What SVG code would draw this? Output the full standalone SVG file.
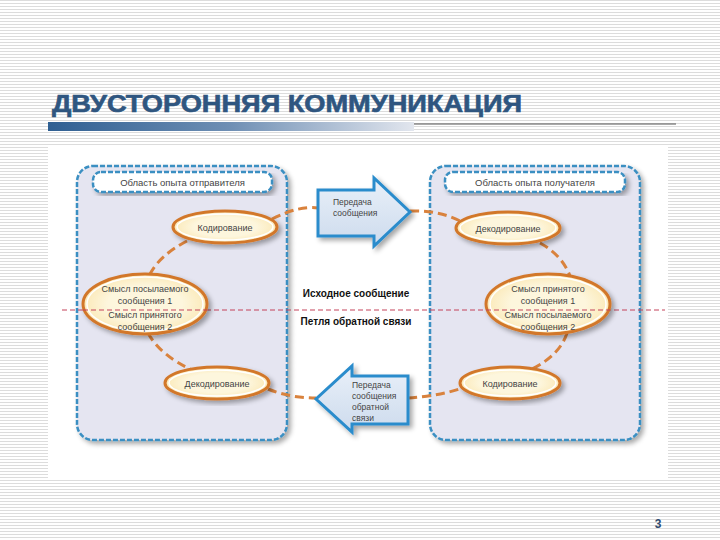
<svg xmlns="http://www.w3.org/2000/svg" width="720" height="540" viewBox="0 0 720 540">
<defs>
<pattern id="stripes" width="6" height="3" patternUnits="userSpaceOnUse">
<rect width="6" height="3" fill="#ffffff"/>
<rect y="0" width="6" height="1" fill="#dcdcdc"/>
</pattern>
<linearGradient id="bar" x1="0" y1="0" x2="1" y2="0">
<stop offset="0" stop-color="#2f5f92"/>
<stop offset="0.5" stop-color="#6f8fb4"/>
<stop offset="1" stop-color="#e2e6ee"/>
</linearGradient>
<radialGradient id="ell" cx="0.5" cy="0.5" r="0.5">
<stop offset="0.6" stop-color="#fdf6dd"/>
<stop offset="1" stop-color="#fbe9b8"/>
</radialGradient>
<linearGradient id="arrowFill" x1="0" y1="0" x2="0" y2="1">
<stop offset="0" stop-color="#e9f0f9"/>
<stop offset="1" stop-color="#cddbed"/>
</linearGradient>
<filter id="sh" x="-10%" y="-10%" width="130%" height="130%">
<feGaussianBlur in="SourceAlpha" stdDeviation="2.5"/>
<feOffset dx="3" dy="3" result="b"/>
<feComponentTransfer><feFuncA type="linear" slope="0.35"/></feComponentTransfer>
<feMerge><feMergeNode/><feMergeNode in="SourceGraphic"/></feMerge>
</filter>
</defs>
<style>
.panel{fill:#e5e5f1;stroke:#3a8fc2;stroke-width:2.5;stroke-dasharray:5 2}
.pill{fill:#ffffff;stroke:#3a8fc2;stroke-width:2.5;stroke-dasharray:5 2}
.ell{fill:url(#ell);stroke:#d2772a;stroke-width:3}
.ellin{fill:none;stroke:#ffffff;stroke-width:1.5}
.conn{fill:none;stroke:#d9823d;stroke-width:3;stroke-dasharray:9 5}
.arr{fill:url(#arrowFill);stroke:#2a8ccc;stroke-width:3;stroke-linejoin:miter}
.t{font-family:"Liberation Sans",Arial,sans-serif;font-size:9px;fill:#444}
.h{font-family:"Liberation Sans",Arial,sans-serif;font-size:9.5px;fill:#444}
.b{font-family:"Liberation Sans",Arial,sans-serif;font-size:10px;font-weight:bold;fill:#111}
.a{font-family:"Liberation Sans",Arial,sans-serif;font-size:8.5px;fill:#444}
</style>
<rect width="720" height="540" fill="url(#stripes)"/>
<text x="52" y="112" font-family="Liberation Sans, Arial, sans-serif" font-size="23" font-weight="bold" fill="#2f5680" stroke="#2f5680" stroke-width="0.6" textLength="470" lengthAdjust="spacingAndGlyphs">ДВУСТОРОННЯЯ КОММУНИКАЦИЯ</text>
<rect x="48" y="122" width="366" height="9" fill="url(#bar)"/>
<line x1="414" y1="124" x2="676" y2="124" stroke="#555" stroke-width="1"/>
<rect x="48" y="145" width="620" height="333" fill="#ffffff"/>

<g id="sender-panel">
<rect class="panel" x="77" y="166" width="210" height="274" rx="16" filter="url(#sh)"/>
<rect class="pill" x="93" y="172" width="179" height="20" rx="8" filter="url(#sh)"/>
<text class="h" x="182.5" y="185.5" text-anchor="middle">Область опыта отправителя</text>
</g>
<g id="receiver-panel">
<rect class="panel" x="430" y="166" width="210" height="274" rx="16" filter="url(#sh)"/>
<rect class="pill" x="445" y="172" width="180" height="20" rx="8" filter="url(#sh)"/>
<text class="h" x="535" y="185.5" text-anchor="middle">Область опыта получателя</text>
</g>

<g id="connectors">
<path class="conn" d="M272,219 Q300,205 318,208"/>
<path class="conn" d="M410,211 Q440,210 462,222"/>
<path class="conn" d="M187,241 Q160,255 150,274"/>
<path class="conn" d="M148,333 Q160,355 192,370"/>
<path class="conn" d="M268,389 Q290,398 316,398"/>
<path class="conn" d="M408,398 Q440,396 462,388"/>
<path class="conn" d="M540,243 Q562,255 570,276"/>
<path class="conn" d="M567,333 Q560,355 532,369"/>
<line x1="62" y1="310" x2="665" y2="310" stroke="#c4435a" stroke-width="1" stroke-dasharray="5 3"/>
</g>

<g id="enc-left">
<ellipse class="ell" cx="225" cy="227" rx="52" ry="16" filter="url(#sh)"/>
<ellipse class="ellin" cx="225" cy="227" rx="48" ry="13"/>
<text class="t" x="225" y="230.5" text-anchor="middle">Кодирование</text>
</g>
<g id="meaning-left">
<ellipse class="ell" cx="145" cy="304" rx="62" ry="30" filter="url(#sh)"/>
<ellipse class="ellin" cx="145" cy="304" rx="58" ry="27"/>
<line x1="83" y1="310" x2="207" y2="310" stroke="#c4435a" stroke-width="1" stroke-dasharray="5 3"/>
<text class="t" x="145" y="292" text-anchor="middle">Смысл посылаемого</text>
<text class="t" x="145" y="304" text-anchor="middle">сообщения 1</text>
<text class="t" x="145" y="318" text-anchor="middle">Смысл принятого</text>
<text class="t" x="145" y="330" text-anchor="middle">сообщения 2</text>
</g>
<g id="dec-left">
<ellipse class="ell" cx="217" cy="383" rx="52" ry="16" filter="url(#sh)"/>
<ellipse class="ellin" cx="217" cy="383" rx="48" ry="13"/>
<text class="t" x="217" y="386.5" text-anchor="middle">Декодирование</text>
</g>
<g id="dec-right">
<ellipse class="ell" cx="508" cy="228" rx="52" ry="16" filter="url(#sh)"/>
<ellipse class="ellin" cx="508" cy="228" rx="48" ry="13"/>
<text class="t" x="508" y="231.5" text-anchor="middle">Декодирование</text>
</g>
<g id="meaning-right">
<ellipse class="ell" cx="548" cy="304" rx="62" ry="30" filter="url(#sh)"/>
<ellipse class="ellin" cx="548" cy="304" rx="58" ry="27"/>
<line x1="486" y1="310" x2="610" y2="310" stroke="#c4435a" stroke-width="1" stroke-dasharray="5 3"/>
<text class="t" x="548" y="292" text-anchor="middle">Смысл принятого</text>
<text class="t" x="548" y="304" text-anchor="middle">сообщения 1</text>
<text class="t" x="548" y="318" text-anchor="middle">Смысл посылаемого</text>
<text class="t" x="548" y="330" text-anchor="middle">сообщения 2</text>
</g>
<g id="enc-right">
<ellipse class="ell" cx="510" cy="383" rx="50" ry="16" filter="url(#sh)"/>
<ellipse class="ellin" cx="510" cy="383" rx="46" ry="13"/>
<text class="t" x="510" y="386.5" text-anchor="middle">Кодирование</text>
</g>

<g id="arrow-send">
<path class="arr" d="M318,190 L374,190 L374,178 L410,212 L374,246 L374,236 L318,236 Z" filter="url(#sh)"/>
<text class="a" x="333" y="205">Передача</text>
<text class="a" x="333" y="216">сообщения</text>
</g>
<g id="arrow-feedback">
<path class="arr" d="M408,376 L352,376 L352,366 L316,399 L352,432 L352,424 L408,424 Z" filter="url(#sh)"/>
<text class="a" x="352" y="388">Передача</text>
<text class="a" x="352" y="399">сообщения</text>
<text class="a" x="352" y="410">обратной</text>
<text class="a" x="352" y="421">связи</text>
</g>

<g id="labels">
<text class="b" x="356" y="297" text-anchor="middle">Исходное сообщение</text>
<text class="b" x="356" y="325" text-anchor="middle">Петля обратной связи</text>
</g>
<text x="658" y="528" font-family="Liberation Sans, Arial, sans-serif" font-size="12" font-weight="bold" fill="#2f4a6e" text-anchor="middle">3</text>
</svg>
